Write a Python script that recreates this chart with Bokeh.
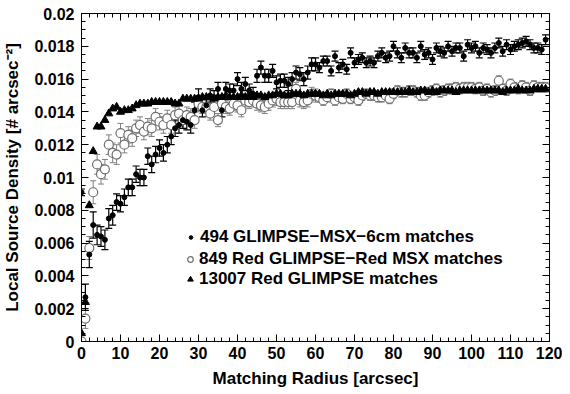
from bokeh.plotting import figure
from bokeh.models import (ColumnDataSource, Whisker, TeeHead, LinearAxis, SingleIntervalTicker,
                          NumeralTickFormatter, Legend, LegendItem, Range1d, CustomJSTickFormatter)
from bokeh.embed import file_html
from bokeh.resources import INLINE

# ---------------- data ----------------
radius = list(range(120))  # arcsec

glimpse_msx_6cm = [
    0.0091, 0.0027, 0.0053, 0.0071, 0.0065, 0.0064, 0.0062, 0.0075, 0.0077, 0.0085,
    0.0084, 0.0088, 0.0094, 0.0094, 0.0102, 0.0100, 0.0100, 0.0113, 0.0108, 0.0114,
    0.0118, 0.0115, 0.0120, 0.0125, 0.0130, 0.0132, 0.0135, 0.0134, 0.0132, 0.0141,
    0.0149, 0.0141, 0.0144, 0.0150, 0.0149, 0.0154, 0.0141, 0.0154, 0.0153, 0.0153,
    0.0160, 0.0154, 0.0157, 0.0153, 0.0151, 0.0162, 0.0167, 0.0162, 0.0162, 0.0165,
    0.0158, 0.0159, 0.0159, 0.0157, 0.0160, 0.0164, 0.0163, 0.0160, 0.0164, 0.0169,
    0.0169, 0.0167, 0.0171, 0.0171, 0.0165, 0.0174, 0.0167, 0.0169, 0.0166, 0.0176,
    0.0170, 0.0172, 0.0173, 0.0170, 0.0171, 0.0170, 0.0174, 0.0176, 0.0173, 0.0174,
    0.0180, 0.0176, 0.0173, 0.0179, 0.0176, 0.0176, 0.0173, 0.0180, 0.0175, 0.0176,
    0.0172, 0.0179, 0.0177, 0.0176, 0.0180, 0.0177, 0.0179, 0.0179, 0.0174, 0.0181,
    0.0179, 0.0180, 0.0176, 0.0179, 0.0178, 0.0176, 0.0179, 0.0182, 0.0177, 0.0181,
    0.0178, 0.0180, 0.0181, 0.0182, 0.0183, 0.0181, 0.0179, 0.0179, 0.0178, 0.0184,
]
glimpse_msx_6cm_err = [
    0.0002, 0.0008, 0.0008, 0.0008, 0.0006, 0.0006, 0.0006, 0.0006, 0.0006, 0.0005,
    0.0005, 0.0005, 0.0005, 0.0005, 0.0005, 0.0005, 0.0005, 0.0005, 0.0005, 0.0005,
    0.0005, 0.0005, 0.0005, 0.0005, 0.0005, 0.0005, 0.0005, 0.0005, 0.0005, 0.0005,
    0.0005, 0.0004, 0.0004, 0.0004, 0.0004, 0.0004, 0.0004, 0.0004, 0.0004, 0.0004,
    0.0004, 0.0004, 0.0004, 0.0004, 0.0004, 0.0004, 0.0004, 0.0004, 0.0004, 0.0004,
    0.0004, 0.0004, 0.0004, 0.0004, 0.0004, 0.0004, 0.0004, 0.0004, 0.0004, 0.0004,
    0.0004, 0.0003, 0.0003, 0.0003, 0.0003, 0.0003, 0.0003, 0.0003, 0.0003, 0.0003,
    0.0003, 0.0003, 0.0003, 0.0003, 0.0003, 0.0003, 0.0003, 0.0003, 0.0003, 0.0003,
    0.0003, 0.0003, 0.0003, 0.0003, 0.0003, 0.0003, 0.0003, 0.0003, 0.0003, 0.0003,
    0.0003, 0.0003, 0.0003, 0.0003, 0.0003, 0.0003, 0.0003, 0.0003, 0.0003, 0.0003,
    0.0003, 0.0003, 0.0003, 0.0003, 0.0003, 0.0003, 0.0003, 0.0003, 0.0003, 0.0003,
    0.0003, 0.0003, 0.0003, 0.0003, 0.0003, 0.0003, 0.0003, 0.0003, 0.0003, 0.0003,
]

red_glimpse_red_msx = [
    0.0000, 0.0014, 0.0057, 0.0091, 0.0108, 0.0102, 0.0105, 0.0120, 0.0115, 0.0114,
    0.0127, 0.0120, 0.0126, 0.0124, 0.0130, 0.0132, 0.0128, 0.0131, 0.0130, 0.0137,
    0.0134, 0.0132, 0.0136, 0.0132, 0.0138, 0.0139, 0.0135, 0.0138, 0.0137, 0.0135,
    0.0145, 0.0143, 0.0143, 0.0139, 0.0143, 0.0135, 0.0145, 0.0143, 0.0142, 0.0145,
    0.0144, 0.0141, 0.0147, 0.0146, 0.0147, 0.0145, 0.0144, 0.0143, 0.0145, 0.0147,
    0.0148, 0.0146, 0.0146, 0.0146, 0.0146, 0.0154, 0.0147, 0.0146, 0.0147, 0.0151,
    0.0150, 0.0149, 0.0147, 0.0149, 0.0151, 0.0147, 0.0149, 0.0148, 0.0151, 0.0148,
    0.0149, 0.0147, 0.0150, 0.0151, 0.0150, 0.0150, 0.0149, 0.0149, 0.0150, 0.0148,
    0.0151, 0.0153, 0.0152, 0.0152, 0.0153, 0.0153, 0.0152, 0.0150, 0.0150, 0.0152,
    0.0153, 0.0154, 0.0152, 0.0153, 0.0154, 0.0154, 0.0155, 0.0154, 0.0155, 0.0155,
    0.0155, 0.0154, 0.0155, 0.0153, 0.0154, 0.0152, 0.0153, 0.0159, 0.0154, 0.0153,
    0.0157, 0.0155, 0.0154, 0.0156, 0.0155, 0.0153, 0.0156, 0.0155, 0.0155, 0.0155,
]
red_glimpse_red_msx_err = [
    0.0002, 0.0006, 0.0007, 0.0007, 0.0006, 0.0006, 0.0006, 0.0006, 0.0006, 0.0006,
    0.0006, 0.0005, 0.0005, 0.0005, 0.0005, 0.0005, 0.0005, 0.0005, 0.0005, 0.0005,
    0.0005, 0.0005, 0.0005, 0.0005, 0.0005, 0.0005, 0.0005, 0.0005, 0.0005, 0.0005,
    0.0005, 0.0004, 0.0004, 0.0004, 0.0004, 0.0004, 0.0004, 0.0004, 0.0004, 0.0004,
    0.0004, 0.0004, 0.0004, 0.0004, 0.0004, 0.0004, 0.0004, 0.0004, 0.0004, 0.0004,
    0.0004, 0.0004, 0.0004, 0.0004, 0.0004, 0.0004, 0.0004, 0.0004, 0.0004, 0.0004,
    0.0004, 0.0003, 0.0003, 0.0003, 0.0003, 0.0003, 0.0003, 0.0003, 0.0003, 0.0003,
    0.0003, 0.0003, 0.0003, 0.0003, 0.0003, 0.0003, 0.0003, 0.0003, 0.0003, 0.0003,
    0.0003, 0.0003, 0.0003, 0.0003, 0.0003, 0.0003, 0.0003, 0.0003, 0.0003, 0.0003,
    0.0003, 0.0003, 0.0003, 0.0003, 0.0003, 0.0003, 0.0003, 0.0003, 0.0003, 0.0003,
    0.0003, 0.0003, 0.0003, 0.0003, 0.0003, 0.0003, 0.0003, 0.0003, 0.0003, 0.0003,
    0.0003, 0.0003, 0.0003, 0.0003, 0.0003, 0.0003, 0.0003, 0.0003, 0.0003, 0.0003,
]

red_glimpse = [
    0.0005, 0.0024, 0.0083, 0.0116, 0.0131, 0.0131, 0.0135, 0.0139, 0.0142, 0.0143,
    0.0140, 0.0141, 0.0141, 0.0142, 0.0144, 0.0145, 0.0145, 0.0145, 0.0146, 0.0146,
    0.0146, 0.0146, 0.0146, 0.0146, 0.0145, 0.0145, 0.0148, 0.0148, 0.0148, 0.0148,
    0.0148, 0.0149, 0.0149, 0.0149, 0.0148, 0.0149, 0.0149, 0.0150, 0.0149, 0.0149,
    0.0149, 0.0150, 0.0149, 0.0150, 0.0149, 0.0150, 0.0150, 0.0149, 0.0150, 0.0150,
    0.0151, 0.0151, 0.0150, 0.0150, 0.0151, 0.0151, 0.0151, 0.0150, 0.0151, 0.0151,
    0.0151, 0.0151, 0.0150, 0.0151, 0.0150, 0.0151, 0.0151, 0.0151, 0.0151, 0.0150,
    0.0151, 0.0152, 0.0152, 0.0151, 0.0152, 0.0152, 0.0151, 0.0152, 0.0152, 0.0152,
    0.0152, 0.0152, 0.0152, 0.0152, 0.0153, 0.0152, 0.0152, 0.0153, 0.0153, 0.0152,
    0.0153, 0.0152, 0.0153, 0.0153, 0.0153, 0.0153, 0.0152, 0.0153, 0.0153, 0.0153,
    0.0153, 0.0153, 0.0153, 0.0153, 0.0153, 0.0153, 0.0153, 0.0153, 0.0152, 0.0153,
    0.0153, 0.0153, 0.0154, 0.0153, 0.0153, 0.0153, 0.0154, 0.0154, 0.0154, 0.0154,
]

legend_labels = [
    "494 GLIMPSE\u2212MSX\u22126cm matches",
    "849 Red GLIMPSE\u2212Red MSX matches",
    "13007 Red GLIMPSE matches",
]
x_label = "Matching Radius [arcsec]"
y_label = "Local Source Density [# arcsec\u207b\u00b2]"

# ---------------- figure ----------------
FONT = "Liberation Sans"

p = figure(width=562, height=390, output_backend="svg", toolbar_location=None,
           x_range=Range1d(0, 120), y_range=Range1d(0, 0.02),
           min_border_left=81, min_border_right=13, min_border_top=13, min_border_bottom=49)
p.xgrid.visible = False
p.ygrid.visible = False
p.outline_line_color = "black"
p.background_fill_color = "white"
p.border_fill_color = "white"

xticker = SingleIntervalTicker(interval=10, num_minor_ticks=5)
yticker = SingleIntervalTicker(interval=0.002, num_minor_ticks=4)

p.xaxis.ticker = xticker
p.yaxis.ticker = yticker
p.yaxis.formatter = NumeralTickFormatter(format="0.[000]")
p.xaxis.axis_label = x_label
p.yaxis.axis_label = y_label

for ax in (p.xaxis[0], p.yaxis[0]):
    ax.major_tick_in = 7
    ax.major_tick_out = 0
    ax.minor_tick_in = 4
    ax.minor_tick_out = 0
    ax.axis_line_color = "black"
    ax.major_tick_line_color = "black"
    ax.minor_tick_line_color = "black"
    ax.major_label_text_font = FONT
    ax.major_label_text_font_style = "bold"
    ax.major_label_text_font_size = "16px"
    ax.major_label_text_color = "black"
    ax.axis_label_text_font = FONT
    ax.axis_label_text_font_style = "bold"
    ax.axis_label_text_font_size = "17px"
    ax.axis_label_text_color = "black"
p.xaxis.major_label_standoff = 5
p.xaxis.axis_label_standoff = 7
p.yaxis.major_label_standoff = 7
p.yaxis.axis_label_standoff = 9

blank = CustomJSTickFormatter(code="return ''")
top = LinearAxis(ticker=xticker, formatter=blank, major_tick_in=7, major_tick_out=0,
                 minor_tick_in=4, minor_tick_out=0, major_label_standoff=0,
                 major_label_text_font_size="1px")
right = LinearAxis(ticker=yticker, formatter=blank, major_tick_in=7, major_tick_out=0,
                   minor_tick_in=4, minor_tick_out=0, major_label_standoff=0,
                   major_label_text_font_size="1px")
p.add_layout(top, "above")
p.add_layout(right, "right")

# ---------------- data sources ----------------
src_f = ColumnDataSource(dict(
    x=radius, y=glimpse_msx_6cm,
    lo=[v - e for v, e in zip(glimpse_msx_6cm, glimpse_msx_6cm_err)],
    hi=[v + e for v, e in zip(glimpse_msx_6cm, glimpse_msx_6cm_err)]))
src_o = ColumnDataSource(dict(
    x=radius, y=red_glimpse_red_msx,
    lo=[v - e for v, e in zip(red_glimpse_red_msx, red_glimpse_red_msx_err)],
    hi=[v + e for v, e in zip(red_glimpse_red_msx, red_glimpse_red_msx_err)]))
src_t = ColumnDataSource(dict(x=radius, y=red_glimpse))

GRAY = "#808080"
w_o = Whisker(base="x", lower="lo", upper="hi", source=src_o, line_color=GRAY, line_width=1,
              upper_head=TeeHead(size=6, line_color=GRAY), lower_head=TeeHead(size=6, line_color=GRAY))
p.add_layout(w_o)
r_o = p.scatter("x", "y", source=src_o, marker="circle", size=9,
                fill_color="white", line_color="#6e6e6e", line_width=1.2)

r_t = p.scatter("x", "y", source=src_t, marker="triangle", size=8,
                fill_color="black", line_color="black")

w_f = Whisker(base="x", lower="lo", upper="hi", source=src_f, line_color="black", line_width=1.2,
              upper_head=TeeHead(size=7, line_color="black", line_width=1.2),
              lower_head=TeeHead(size=7, line_color="black", line_width=1.2))
p.add_layout(w_f)
r_f = p.scatter("x", "y", source=src_f, marker="circle", size=5,
                fill_color="black", line_color="black")

# one legend per row so that each keeps its own marker size
legend_common = dict(padding=0, margin=0, spacing=0, glyph_height=20, label_height=20,
                     background_fill_alpha=0, border_line_color=None,
                     label_text_font=FONT, label_text_font_style="bold",
                     label_text_font_size="17px", label_text_color="black")
leg1 = Legend(items=[LegendItem(label=legend_labels[0], renderers=[r_f])],
              location=(105, 94), glyph_width=9, label_standoff=5, **legend_common)
leg2 = Legend(items=[LegendItem(label=legend_labels[1], renderers=[r_o])],
              location=(102, 72), glyph_width=14, label_standoff=2, **legend_common)
leg3 = Legend(items=[LegendItem(label=legend_labels[2], renderers=[r_t])],
              location=(102, 52), glyph_width=14, label_standoff=2, **legend_common)
for leg in (leg1, leg2, leg3):
    p.add_layout(leg)

open("out.html", "w").write(file_html(p, INLINE))
